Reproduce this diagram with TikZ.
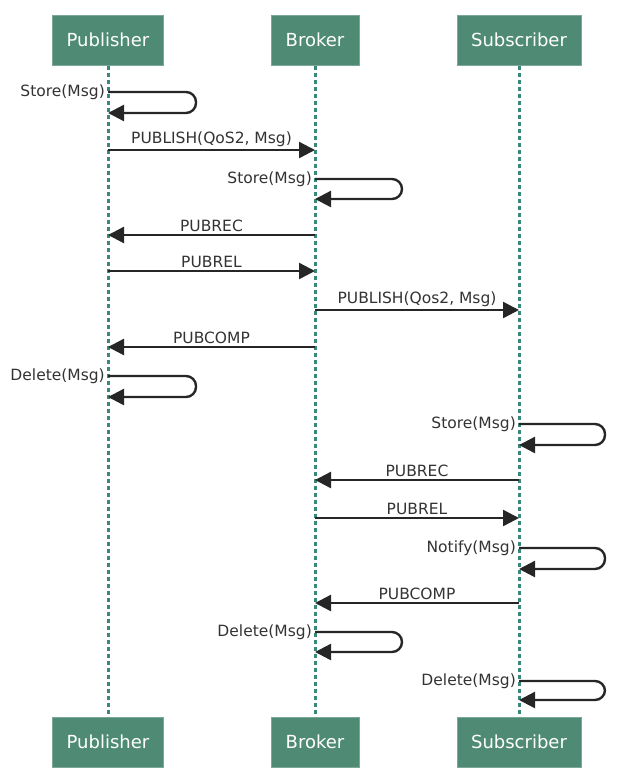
\documentclass[tikz,border=0pt]{standalone}
\usepackage{fontspec}
\setmainfont{DejaVu Sans}
\usetikzlibrary{arrows.meta,positioning}
\definecolor{boxgreen}{HTML}{4F8B74}
\definecolor{lifegreen}{HTML}{3A887A}
\tikzstyle{actor} = [rectangle,draw=boxgreen!75!white,fill=boxgreen,text=white,minimum height=50pt,line width=1pt,font=\fontsize{18}{21}\selectfont]
\tikzstyle{lifeline} = [color=lifegreen,line width=3pt,dash pattern=on 4pt off 3pt]
\tikzstyle{msgarrow} = [color=black!85,line width=2.4pt,-{Triangle[length=16pt,width=16pt]}]
\tikzstyle{selfloop} = [msgarrow,rounded corners=10pt]
\tikzstyle{msgtext} = [font=\fontsize{15.5}{18}\selectfont,text=black!80,inner sep=2pt]

\begin{document}
\begin{tikzpicture}[x=1pt,y=-1pt,node distance=1cm]
	\useasboundingbox (0,0) rectangle (624,771);

	%actors
	\node (P1) [actor,minimum width=111pt] at (108,40) {Publisher};
	\node (B1) [actor,minimum width=88pt] at (315,40) {Broker};
	\node (S1) [actor,minimum width=124pt] at (519,40) {Subscriber};
	\node (P2) [actor,minimum width=111pt,below=651pt of P1] {Publisher};
	\node (B2) [actor,minimum width=88pt,below=651pt of B1] {Broker};
	\node (S2) [actor,minimum width=124pt,below=651pt of S1] {Subscriber};

	%lifelines
	\draw [lifeline] (P1) -- (P2);
	\draw [lifeline] (B1) -- (B2);
	\draw [lifeline] (S1) -- (S2);

	%publisher side
	\coordinate (p1a) at (P1 |- 0,92);
	\coordinate (p1b) at (P1 |- 0,113);
	\draw [selfloop] (p1a) node [msgtext,anchor=east] {Store(Msg)} -- ++(88,0) |- (p1b);

	\coordinate (p2) at (P1 |- 0,150);
	\coordinate (b2) at (B1 |- 0,150);
	\draw [msgarrow] (p2) -- node [msgtext,above] {PUBLISH(QoS2, Msg)} (b2);

	\coordinate (b3a) at (B1 |- 0,179);
	\coordinate (b3b) at (B1 |- 0,199);
	\draw [selfloop] (b3a) node [msgtext,anchor=east] {Store(Msg)} -- ++(87,0) |- (b3b);

	\coordinate (b4) at (B1 |- 0,235);
	\coordinate (p4) at (P1 |- 0,235);
	\draw [msgarrow] (b4) -- node [msgtext,above] {PUBREC} (p4);

	\coordinate (p5) at (P1 |- 0,271);
	\coordinate (b5) at (B1 |- 0,271);
	\draw [msgarrow] (p5) -- node [msgtext,above] {PUBREL} (b5);

	\coordinate (b6) at (B1 |- 0,310);
	\coordinate (s6) at (S1 |- 0,310);
	\draw [msgarrow] (b6) -- node [msgtext,above] {PUBLISH(Qos2, Msg)} (s6);

	\coordinate (b7) at (B1 |- 0,347);
	\coordinate (p7) at (P1 |- 0,347);
	\draw [msgarrow] (b7) -- node [msgtext,above] {PUBCOMP} (p7);

	\coordinate (p8a) at (P1 |- 0,376);
	\coordinate (p8b) at (P1 |- 0,397);
	\draw [selfloop] (p8a) node [msgtext,anchor=east] {Delete(Msg)} -- ++(88,0) |- (p8b);

	%subscriber side
	\coordinate (s9a) at (S1 |- 0,424);
	\coordinate (s9b) at (S1 |- 0,445);
	\draw [selfloop] (s9a) node [msgtext,anchor=east] {Store(Msg)} -- ++(86,0) |- (s9b);

	\coordinate (s10) at (S1 |- 0,480);
	\coordinate (b10) at (B1 |- 0,480);
	\draw [msgarrow] (s10) -- node [msgtext,above] {PUBREC} (b10);

	\coordinate (b11) at (B1 |- 0,518);
	\coordinate (s11) at (S1 |- 0,518);
	\draw [msgarrow] (b11) -- node [msgtext,above] {PUBREL} (s11);

	\coordinate (s12a) at (S1 |- 0,548);
	\coordinate (s12b) at (S1 |- 0,569);
	\draw [selfloop] (s12a) node [msgtext,anchor=east] {Notify(Msg)} -- ++(86,0) |- (s12b);

	\coordinate (s13) at (S1 |- 0,603);
	\coordinate (b13) at (B1 |- 0,603);
	\draw [msgarrow] (s13) -- node [msgtext,above] {PUBCOMP} (b13);

	\coordinate (b14a) at (B1 |- 0,632);
	\coordinate (b14b) at (B1 |- 0,652);
	\draw [selfloop] (b14a) node [msgtext,anchor=east] {Delete(Msg)} -- ++(87,0) |- (b14b);

	\coordinate (s15a) at (S1 |- 0,681);
	\coordinate (s15b) at (S1 |- 0,700);
	\draw [selfloop] (s15a) node [msgtext,anchor=east] {Delete(Msg)} -- ++(86,0) |- (s15b);
\end{tikzpicture}
\end{document}
